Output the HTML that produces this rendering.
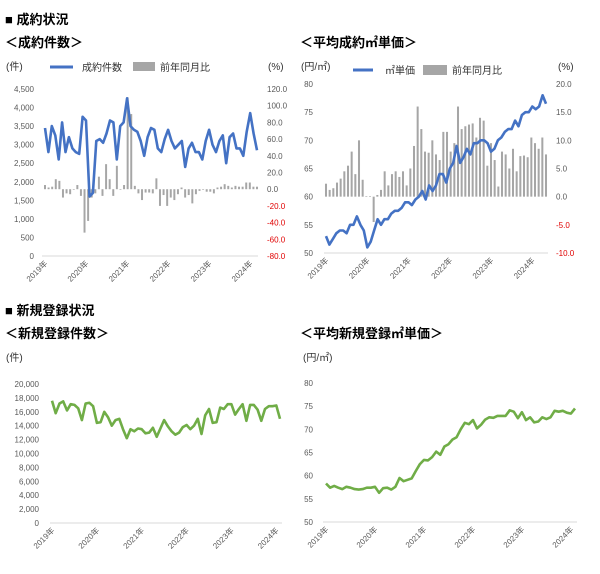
<!DOCTYPE html>
<html><head><meta charset="utf-8">
<style>
body{margin:0;background:#fff;}
svg{display:block;font-family:"Liberation Sans","Noto Sans CJK JP",sans-serif;}
.h{font-size:13px;font-weight:bold;fill:#000;}
.t{font-size:8px;fill:#595959;}
.u{font-size:10px;fill:#333;}
.lg{font-size:10px;fill:#333;}
</style></head>
<body>
<svg id="c" width="600" height="574" viewBox="0 0 600 574">
<text class="h" x="5" y="24">■ 成約状況</text>
<text class="h" x="5" y="47">＜成約件数＞</text>
<text class="h" x="300" y="47">＜平均成約㎡単価＞</text>
<text class="h" x="5" y="315">■ 新規登録状況</text>
<text class="h" x="5" y="338">＜新規登録件数＞</text>
<text class="h" x="300" y="338">＜平均新規登録㎡単価＞</text>

<text class="u" x="6" y="70">(件)</text>
<text class="u" x="268" y="70">(%)</text>
<text class="u" x="301" y="70">(円/㎡)</text>
<text class="u" x="558" y="70">(%)</text>
<text class="u" x="6" y="361">(件)</text>
<text class="u" x="303" y="361">(円/㎡)</text>

<g>
<line x1="50" y1="67" x2="73" y2="67" stroke="#4472c4" stroke-width="3"/>
<text class="lg" x="82" y="71">成約件数</text>
<rect x="133" y="62" width="22" height="9" fill="#a6a6a6"/>
<text class="lg" x="160" y="71">前年同月比</text>
</g>
<g>
<line x1="353" y1="70" x2="373" y2="70" stroke="#4472c4" stroke-width="3"/>
<text class="lg" x="385" y="74">㎡単価</text>
<rect x="423" y="65" width="24" height="10" fill="#a6a6a6"/>
<text class="lg" x="452" y="74">前年同月比</text>
</g>
</svg>
<script>
const years = ["2019年","2020年","2021年","2022年","2023年","2024年"];
const count1 = [3450,2800,3500,3250,2600,3600,2800,3200,2900,2800,2750,3750,3650,1600,1700,3100,3150,3050,3300,3650,3600,2600,3500,3600,4250,3500,3400,3350,3100,2700,3200,3450,3400,2900,2800,3150,3400,3100,2900,3000,3100,2400,2900,3050,2800,2800,2600,3100,3400,3000,2800,3100,3250,2500,3200,3300,2900,2900,2700,3350,3850,3300,2850];
const yoy1 = [5,2,3,12,10,-10,-5,-6,0,5,-8,-52,-38,-10,-5,15,-8,30,12,-8,28,0,5,110,90,4,-5,-13,-4,-4,-5,13,-20,-7,-20,-10,-13,-6,2,-10,-7,-17,-6,-2,0,-3,-3,-5,2,3,6,4,2,4,3,3,8,8,3,3];
const price2 = [53,51.5,52.5,53.5,54,54,53.5,55,55,56.5,55,54,51,52,54,56,55,56,56,57,57.5,57.5,58,59,59,58.5,59.5,60,61,59.5,62,61,62,64,64,62.5,65,66,69,66,67,68.5,67.5,69.5,69.5,70,70,69.5,68,68.5,70,70.5,71.5,72,72,73.5,72.5,74.5,75,75,76,75.5,76,78,76.5];
const yoy2 = [2.3,1.2,1.5,2.5,3.2,4.5,5.5,8,4,10,3,0.1,0.1,-4.5,0.3,1.2,4.5,2,4,4.5,3.5,4.5,2,5,9,16,12,8,7.8,10,7.5,6.5,11.5,11.5,8,9.5,16,12,12.5,12.8,13,10.5,14,13.5,5.5,9.5,6.5,1.8,8,7.5,5,8.5,4.5,7.2,7.3,7,10.5,9.5,8.5,10.5,7.5];
const count3 = [17600,15800,17200,17500,16200,17100,17000,16500,14800,17200,17300,16800,14400,14500,16000,15200,14000,14800,15000,13500,12200,13500,13200,13600,13500,12900,13000,13700,12400,13600,14800,13900,13200,12700,13000,13800,14100,13500,14000,15000,12800,15500,16400,14400,14500,16600,16400,17100,17100,15600,16400,17100,14700,17000,17000,16300,14700,16400,16800,16800,16900,15000];
const price4 = [58.3,57.4,57.8,57.4,57.1,57.6,57.4,57.1,57,57.1,57.4,57.4,57.6,56.3,57.3,57.4,57,57.6,59.5,58.8,59.1,59.4,61,62.5,63.4,63.3,64,65.2,64.5,66.3,66.8,67.8,68.3,70,71.4,71.1,72,70.2,71,72.1,72.6,72.5,72.9,72.9,72.9,74.1,73.8,72.4,73.7,72,72.6,71.5,71.7,72.6,72.2,72.6,74,73.8,74,73.6,73.4,74.5];
const ticks1L = ["0","500","1,000","1,500","2,000","2,500","3,000","3,500","4,000","4,500"];
const ticks1R = ["-80.0","-60.0","-40.0","-20.0","0.0","20.0","40.0","60.0","80.0","100.0","120.0"];
const ticks2L = ["50","55","60","65","70","75","80"];
const ticks2R = ["-10.0","-5.0","0.0","5.0","10.0","15.0","20.0"];
const ticks3L = ["0","2,000","4,000","6,000","8,000","10,000","12,000","14,000","16,000","18,000","20,000"];
const ticks4L = ["50","55","60","65","70","75","80"];

const svg = document.getElementById('c');
const NS = 'http://www.w3.org/2000/svg';
function mk(tag, attrs){const e=document.createElementNS(NS,tag);for(const k in attrs)e.setAttribute(k,attrs[k]);svg.appendChild(e);return e;}
function scale(d0,d1,r0,r1){return v=>r0+(v-d0)*(r1-d0===0?0:1)*(r1-r0)/(d1-d0);}

function panel(p){
  const yL = scale(p.lmin,p.lmax,p.y0,p.y1);
  // left ticks
  p.tl.forEach((t,i)=>{
    const v=p.lmin+i*(p.lmax-p.lmin)/(p.tl.length-1);
    const e=mk('text',{x:p.lx,y:yL(v)+3,'text-anchor':'end','class':'t'});
    
    
    e.textContent=t;
  });
  const base=mk('line',{x1:p.x0,x2:p.x1,y1:p.y0,y2:p.y0,stroke:'#d9d9d9','stroke-width':1});
  
  
  let yR=null;
  if(p.bars){
    yR=scale(p.rmin,p.rmax,p.y0,p.y1);
    p.tr.forEach((t,i)=>{
      const v=p.rmin+i*(p.rmax-p.rmin)/(p.tr.length-1);
      const e=mk('text',{x:p.rx,y:yR(v)+3,'class':'t',fill:v<0?'#e00000':'#595959',style:v<0?'fill:#e00000':''});
      
      
      e.textContent=t;
    });
    const n=p.bars.length, step=(p.lx1-p.lx0)/(n-1), bw=step*0.55;
    p.bars.forEach((v,i)=>{
      const x=p.lx0+i*step, a=yR(0), b=yR(v);
      const r=mk('rect',{x:x-bw/2,y:Math.min(a,b),width:bw,height:Math.max(0.6,Math.abs(a-b)),fill:'#a6a6a6'});
      
      
    });
  }
  const n=p.line.length, step=(p.lx1-p.lx0)/(n-1);
  const pts=p.line.map((v,i)=>(p.lx0+i*step).toFixed(1)+','+yL(v).toFixed(1)).join(' ');
  const pl=mk('polyline',{points:pts,fill:'none',stroke:p.color,'stroke-width':2.6,'stroke-linejoin':'round'});
  
  
  years.forEach((y,i)=>{
    const x=p.lx0+i*12*step, yy=p.y0+8;
    const e=mk('text',{x:x+3,y:yy,'class':'t','text-anchor':'end',transform:`rotate(-45 ${x+3} ${yy})`});
    
    
    e.textContent=y;
  });
}
panel({lmin:0,lmax:4500,y0:256,y1:89,x0:42,x1:258,lx0:45,lx1:257,lx:34,tl:ticks1L,
  bars:yoy1,rmin:-80,rmax:120,tr:ticks1R,rx:267,line:count1,color:'#4472c4',name:'contract-count-line'});
panel({lmin:50,lmax:80,y0:253,y1:84,x0:324,x1:548,lx0:326,lx1:546,lx:313,tl:ticks2L,
  bars:yoy2,rmin:-10,rmax:20,tr:ticks2R,rx:556,line:price2,color:'#4472c4',name:'contract-price-line'});
panel({lmin:0,lmax:20000,y0:523,y1:384,x0:50,x1:282,lx0:52,lx1:280,lx:39,tl:ticks3L,
  line:count3,color:'#70ad47',name:'new-count-line'});
panel({lmin:50,lmax:80,y0:522,y1:383,x0:323,x1:577,lx0:326,lx1:575,lx:313,tl:ticks4L,
  line:price4,color:'#70ad47',name:'new-price-line'});
</script>
</body></html>
